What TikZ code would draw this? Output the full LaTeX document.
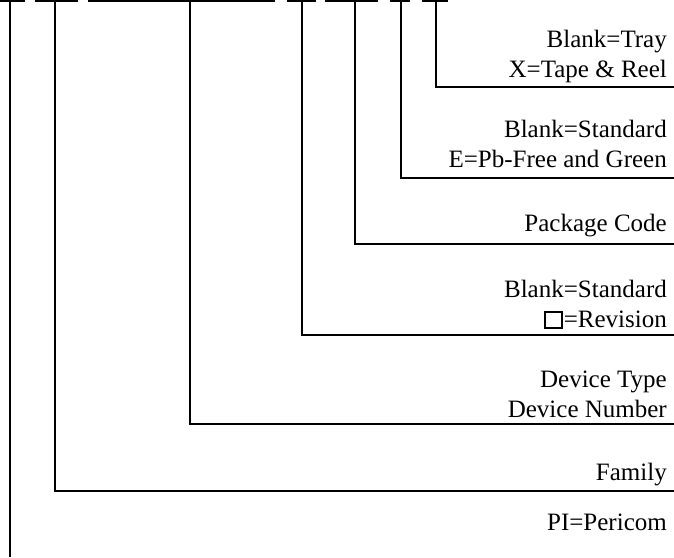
\documentclass[tikz,border=0pt]{standalone}
\usepackage{fontspec}
\setmainfont{Liberation Serif}
\newcommand{\revbox}{{\setlength\fboxsep{0pt}\setlength\fboxrule{1.8pt}\fbox{\rule{0pt}{14pt}\hspace{15pt}}\hspace{1pt}}}
\begin{document}
\begin{tikzpicture}[x=1pt,y=-1pt,
  lbl/.style={anchor=base east,align=right,inner sep=0pt,font=\fontsize{25}{30}\selectfont},
  wire/.style={line width=1.7pt,line cap=butt}]
\useasboundingbox (0,0) rectangle (674,557);
% labels (anchor = baseline of the last line)
\node[lbl] (tray) at (667,77) {Blank=Tray\\X=Tape \& Reel};
\node[lbl] (green) at (667,167) {Blank=Standard\\E=Pb-Free and Green};
\node[lbl] (pkg) at (667,231) {Package Code};
\node[lbl] (rev) at (667,327) {Blank=Standard\\\revbox=Revision};
\node[lbl] (dev) at (667,417) {Device Type\\Device Number};
\node[lbl] (fam) at (667,480) {Family};
\node[lbl] (pi) at (667,530) {PI=Pericom};
% right ends
\coordinate (e1) at (674,87);
\coordinate (e2) at (674,178);
\coordinate (e3) at (674,244);
\coordinate (e4) at (674,335);
\coordinate (e5) at (674,424);
\coordinate (e6) at (674,491);
\coordinate (e7) at (10,557);
% top bars
\coordinate (t1) at (10,1);  \draw[wire] (0,1) -- (25,1);
\coordinate (t2) at (55,1);  \draw[wire] (35,1) -- (78,1);
\coordinate (t3) at (190,1); \draw[wire] (88,1) -- (275,1);
\coordinate (t4) at (302,1); \draw[wire] (287,1) -- (316,1);
\coordinate (t5) at (355,1); \draw[wire] (325,1) -- (378,1);
\coordinate (t6) at (401,1); \draw[wire] (390,1) -- (410,1);
\coordinate (t7) at (436,1); \draw[wire] (422,1) -- (448,1);
% connectors
\draw[wire] (t7) |- (e1);
\draw[wire] (t6) |- (e2);
\draw[wire] (t5) |- (e3);
\draw[wire] (t4) |- (e4);
\draw[wire] (t3) |- (e5);
\draw[wire] (t2) |- (e6);
\draw[wire] (t1) -- (e7);
\end{tikzpicture}
\end{document}
